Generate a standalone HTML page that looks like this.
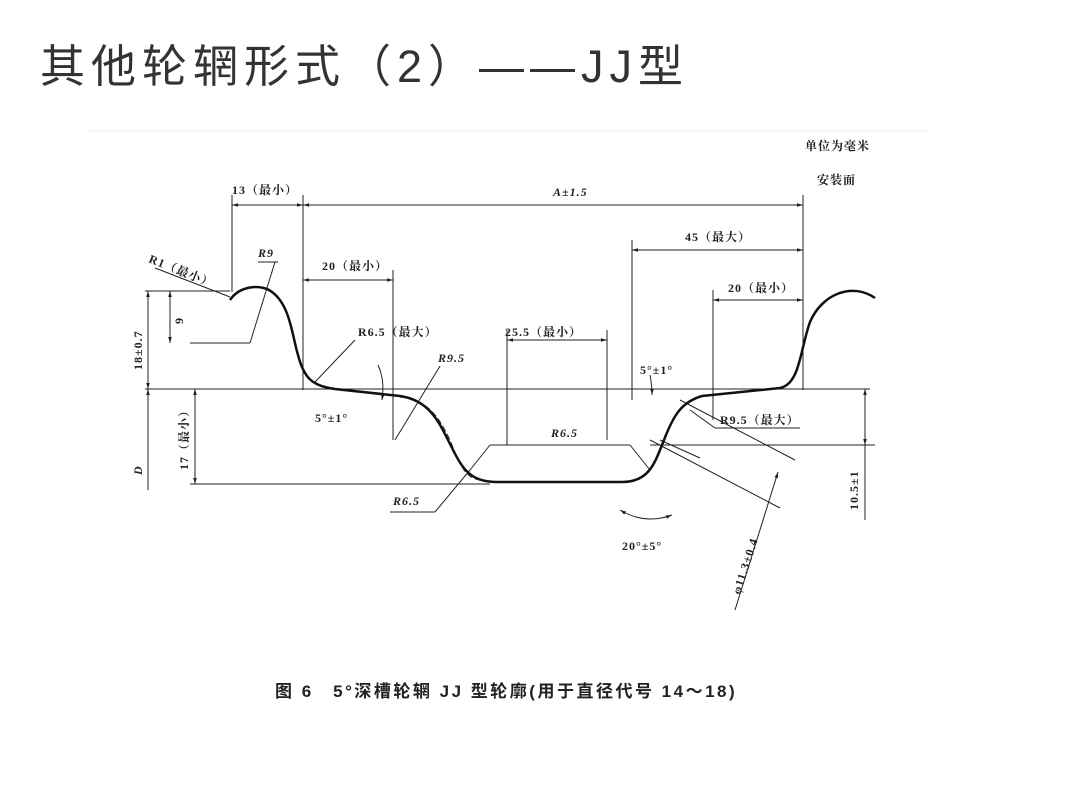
<!DOCTYPE html>
<html><head><meta charset="utf-8"><style>
html,body{margin:0;padding:0;background:#fff}
body{width:1076px;height:807px;overflow:hidden;position:relative}
.t{position:absolute;left:40px;top:30px;font-family:"Liberation Sans","Noto Sans CJK SC",sans-serif;font-size:45px;color:#333;letter-spacing:6px;white-space:nowrap}
svg{position:absolute;left:0;top:0}
text{font-family:"Liberation Serif","Noto Serif CJK SC","Noto Sans CJK SC",serif;fill:#222;font-size:12px;font-weight:bold;letter-spacing:1px}
</style></head><body>
<div class="t">其他轮辋形式（2）——JJ型</div>
<svg width="1076" height="807" viewBox="0 0 1076 807">
<defs><marker id="a" viewBox="0 0 10 10" refX="10" refY="5" markerWidth="8" markerHeight="6" orient="auto-start-reverse"><path d="M0,2 L10,5 L0,8z" fill="#222"/></marker></defs>
<line x1="88" y1="131" x2="930" y2="131" stroke="#eee" stroke-width="1"/>
<g stroke="#222" stroke-width="1" fill="none">
<line x1="232" y1="195" x2="232" y2="292"/>
<line x1="303" y1="195" x2="303" y2="390"/>
<line x1="803" y1="195" x2="803" y2="390"/>
<line x1="632" y1="240" x2="632" y2="400"/>
<line x1="713" y1="290" x2="713" y2="420"/>
<line x1="393" y1="270" x2="393" y2="440"/>
<line x1="507" y1="330" x2="507" y2="445"/>
<line x1="607" y1="330" x2="607" y2="440"/>
<line x1="232" y1="205" x2="303" y2="205" marker-start="url(#a)" marker-end="url(#a)"/>
<line x1="303" y1="205" x2="803" y2="205" marker-start="url(#a)" marker-end="url(#a)"/>
<line x1="632" y1="250" x2="803" y2="250" marker-start="url(#a)" marker-end="url(#a)"/>
<line x1="713" y1="300" x2="803" y2="300" marker-start="url(#a)" marker-end="url(#a)"/>
<line x1="303" y1="280" x2="393" y2="280" marker-start="url(#a)" marker-end="url(#a)"/>
<line x1="507" y1="340" x2="607" y2="340" marker-start="url(#a)" marker-end="url(#a)"/>
<line x1="145" y1="389" x2="870" y2="389"/>
<line x1="145" y1="291" x2="230" y2="291"/>
<line x1="190" y1="484" x2="490" y2="484"/>
<line x1="190" y1="343" x2="250" y2="343"/>
<line x1="650" y1="445" x2="875" y2="445"/>
<line x1="148" y1="291" x2="148" y2="389" marker-start="url(#a)" marker-end="url(#a)"/>
<line x1="148" y1="389" x2="148" y2="490" marker-start="url(#a)"/>
<line x1="195" y1="389" x2="195" y2="484" marker-start="url(#a)" marker-end="url(#a)"/>
<line x1="170" y1="291" x2="170" y2="343" marker-start="url(#a)" marker-end="url(#a)"/>
<line x1="865" y1="389" x2="865" y2="445" marker-start="url(#a)" marker-end="url(#a)"/>
<line x1="865" y1="445" x2="865" y2="520"/>
<line x1="155" y1="268" x2="230" y2="297"/>
<line x1="258" y1="262" x2="278" y2="262"/>
<line x1="275" y1="262" x2="250" y2="343"/>
<line x1="355" y1="340" x2="315" y2="382"/>
<line x1="440" y1="366" x2="395" y2="440"/>
<line x1="490" y1="445" x2="630" y2="445"/>
<line x1="490" y1="445" x2="470" y2="470"/>
<line x1="630" y1="445" x2="650" y2="470"/>
<line x1="390" y1="512" x2="435" y2="512"/>
<line x1="435" y1="512" x2="470" y2="470"/>
<line x1="715" y1="428" x2="800" y2="428"/>
<line x1="715" y1="428" x2="690" y2="410"/>
<line x1="680" y1="400" x2="795" y2="460"/>
<line x1="650" y1="440" x2="780" y2="508"/>
<line x1="778" y1="472" x2="735" y2="610" marker-start="url(#a)"/>
<line x1="660" y1="440" x2="700" y2="458"/>
<path d="M620,510 Q645,525 672,515" marker-start="url(#a)" marker-end="url(#a)"/>
<path d="M378,365 Q385,380 382,400" marker-end="url(#a)"/>
<path d="M650,375 Q652,385 652,395" marker-end="url(#a)"/>
<path d="M400,397 C430,400 440,420 450,440 C460,465 465,478 480,480" stroke-dasharray="6,3"/>
</g>
<path d="M230,300 C240,285 262,284 272,292 C290,305 292,335 298,355 C304,378 312,386 335,389 L400,396 C428,400 438,420 448,440 C462,468 468,482 498,482 L622,482 C650,482 655,462 664,440 C674,414 682,402 702,396 L780,388 C800,384 800,350 810,322 C822,294 852,282 875,298" fill="none" stroke="#111" stroke-width="2.5"/>
<text x="232" y="194">13（最小）</text>
<text x="553" y="196" font-style="italic">A±1.5</text>
<text x="685" y="241">45（最大）</text>
<text x="728" y="292">20（最小）</text>
<text x="322" y="270">20（最小）</text>
<text x="258" y="257" font-style="italic">R9</text>
<text x="148" y="262" transform="rotate(22 148 262)">R1（最小）</text>
<text x="358" y="336">R6.5（最大）</text>
<text x="505" y="336">25.5（最小）</text>
<text x="438" y="362" font-style="italic">R9.5</text>
<text x="640" y="374">5°±1°</text>
<text x="315" y="422">5°±1°</text>
<text x="551" y="437" font-style="italic">R6.5</text>
<text x="720" y="424">R9.5（最大）</text>
<text x="393" y="505" font-style="italic">R6.5</text>
<text x="622" y="550">20°±5°</text>
<text x="805" y="150">单位为毫米</text>
<text x="817" y="184">安装面</text>
<text transform="translate(142 370) rotate(-90)">18±0.7</text>
<text transform="translate(188 470) rotate(-90)">17（最小）</text>
<text transform="translate(142 475) rotate(-90)" font-style="italic">D</text>
<text transform="translate(183 324) rotate(-90)">9</text>
<text transform="translate(858 510) rotate(-90)">10.5±1</text>
<text transform="translate(740 595) rotate(-72)">φ11.3±0.4</text>
<text x="275" y="697" style="font-family:'Liberation Sans','Noto Sans CJK SC',sans-serif;font-size:17px;letter-spacing:2.5px">图 6　5°深槽轮辋 JJ 型轮廓(用于直径代号 14～18)</text>
</svg>
</body></html>
